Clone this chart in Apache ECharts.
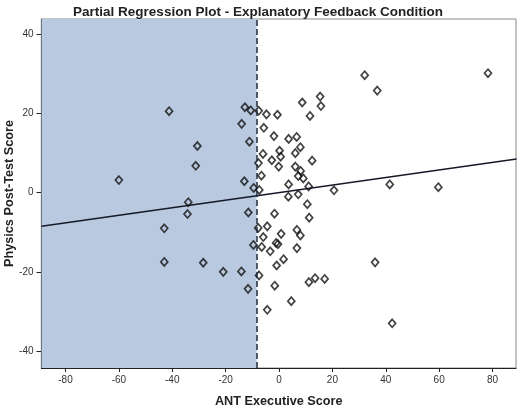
<!DOCTYPE html>
<html>
<head>
<meta charset="utf-8">
<script src="https://cdn.jsdelivr.net/npm/echarts@6/dist/echarts.min.js"></script>
<style>
  html, body { margin: 0; padding: 0; background: #fff; }
  #chart { width: 520px; height: 411px; }
</style>
</head>
<body>
<div id="chart"></div>
<script>
// ANT executive score (x) and physics post-test score (y)
var antScore = [
  -60.0, -41.2, -30.6, -31.2, -34.0, -34.3, -43.0, -43.0, -28.4, -12.8,
  -10.6, -14.0, -11.1, -13.0, -9.5, -11.5, -9.6, -20.9, -14.1, -11.6,
  -7.6, -4.7, -0.6, 8.7, 15.4, 15.7, 11.6, -5.7, -1.9, 3.6,
  6.6, 0.2, 8.0, 6.1, -6.0, 0.6, -2.7, 12.4, -7.7, -0.1,
  6.1, 8.1, 7.2, -6.6, 9.1, 3.6, 11.1, -7.4, 20.6, 3.5,
  7.2, 10.6, -1.7, 11.3, -7.8, -4.4, -5.9, 0.8, 6.7, 8.0,
  -1.1, -0.4, -6.5, -3.3, 6.7, 1.7, -0.9, -7.5, -1.6, 11.2,
  13.5, 17.1, 4.6, -4.4, 32.1, 36.8, 78.3, 41.5, 59.7, 36.0,
  42.4
];
var physicsScore = [
  3.2, 20.6, 11.8, 6.8, -2.4, -5.4, -9.0, -17.5, -17.7, 21.6,
  20.8, 17.4, 12.9, 2.9, 1.2, -5.0, -13.2, -20.0, -19.9, -24.3,
  20.7, 19.8, 19.7, 22.8, 24.3, 21.9, 19.4, 16.4, 14.3, 13.6,
  14.1, 10.6, 11.5, 10.0, 9.8, 9.1, 8.2, 8.1, 7.5, 6.6,
  6.6, 5.5, 4.2, 4.3, 3.6, 2.1, 1.6, 0.7, 0.6, -1.0,
  -0.4, -2.9, -5.3, -6.3, -8.9, -8.5, -11.2, -10.4, -9.4, -10.8,
  -12.7, -13.0, -13.7, -14.8, -14.0, -16.8, -18.4, -20.9, -23.5, -22.6,
  -21.6, -21.8, -27.4, -29.6, 29.7, 25.8, 30.2, 2.1, 1.4, -17.6,
  -33.0
];
// fit line end points
var fitX = [-89, 89];
var fitY = [-8.5, 8.5];
// shaded band and cut-off
var shadeX = [-89, -8.4];
var cutoffX = -8.4;
// axis ranges and ticks
var xRange = [-89, 88.8];
var yRange = [-44.3, 43.9];
var xTicks = [-80, -60, -40, -20, 0, 20, 40, 60, 80];
var yTicks = [-40, -20, 0, 20, 40];

var points = antScore.map(function (x, i) { return [x, physicsScore[i]]; });
var fitLine = fitX.map(function (x, i) { return [x, fitY[i]]; });

var font = "'Liberation Sans', Arial, sans-serif";
var chart = echarts.init(document.getElementById('chart'));
chart.setOption({
  animation: false,
  backgroundColor: '#fff',
  title: {
    text: 'Partial Regression Plot - Explanatory Feedback Condition',
    left: 253,
    top: 0,
    textAlign: 'center',
    textStyle: { fontFamily: font, fontSize: 13.5, fontWeight: 'bold', color: '#222' }
  },
  grid: {
    left: 41.5, right: 4, top: 19, bottom: 43,
    outerBoundsMode: 'none',
    containLabel: false,
    show: true, borderColor: '#888', borderWidth: 1, backgroundColor: '#fff'
  },
  xAxis: {
    type: 'value',
    min: xRange[0], max: xRange[1],
    name: 'ANT Executive Score',
    nameLocation: 'middle',
    nameGap: 27,
    nameMoveOverlap: false,
    nameTextStyle: { fontFamily: font, fontSize: 12.7, fontWeight: 'bold', color: '#222' },
    splitLine: { show: false },
    axisLine: { onZero: false, lineStyle: { color: '#222', width: 1.2 } },
    axisTick: { customValues: xTicks, length: 4, lineStyle: { color: '#222' } },
    axisLabel: { customValues: xTicks, margin: 7, fontFamily: font, fontSize: 10, color: '#333' }
  },
  yAxis: {
    type: 'value',
    min: yRange[0], max: yRange[1],
    name: 'Physics Post-Test Score',
    nameLocation: 'middle',
    nameGap: 26,
    nameMoveOverlap: false,
    nameTextStyle: { fontFamily: font, fontSize: 12.7, fontWeight: 'bold', color: '#222' },
    splitLine: { show: false },
    axisLine: { onZero: false, lineStyle: { color: '#222', width: 1.2 } },
    axisTick: { customValues: yTicks, length: 5, lineStyle: { color: '#222' } },
    axisLabel: { customValues: yTicks, margin: 8, fontFamily: font, fontSize: 10, color: '#333' }
  },
  series: [
    {
      type: 'line',
      data: fitLine,
      symbol: 'none',
      z: 3,
      lineStyle: { color: '#151a28', width: 1.5 },
      markArea: {
        silent: true,
        itemStyle: { color: '#b9c9e0' },
        data: [[{ xAxis: shadeX[0] }, { xAxis: shadeX[1] }]]
      },
      markLine: {
        silent: true,
        symbol: 'none',
        label: { show: false },
        lineStyle: { color: '#1c2a40', type: [6, 3], width: 1.5 },
        data: [{ xAxis: cutoffX }]
      }
    },
    {
      type: 'scatter',
      data: points,
      symbol: 'diamond',
      symbolSize: [7, 8],
      z: 4,
      itemStyle: { color: 'rgba(0,0,0,0)', borderColor: '#111', borderWidth: 1.7 }
    }
  ]
});
</script>
</body>
</html>
